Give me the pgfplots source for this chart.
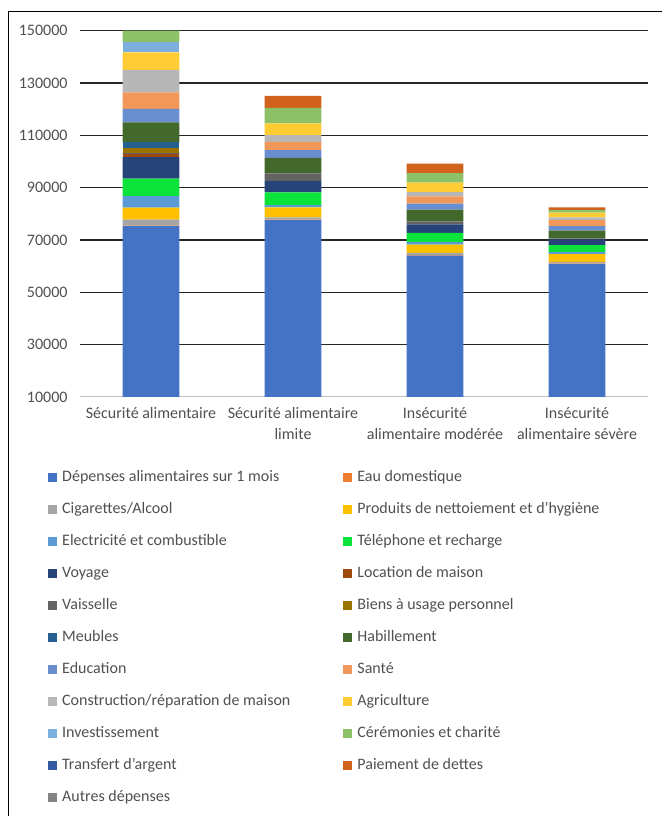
\documentclass[border=0pt]{standalone}
\usepackage{pgfplots}
\pgfplotsset{compat=1.18}
\usepackage{fontspec}
\setmainfont{Carlito}
\definecolor{cDep}{HTML}{4472C4}
\definecolor{cEau}{HTML}{ED7D31}
\definecolor{cCig}{HTML}{A5A5A5}
\definecolor{cPro}{HTML}{FFC000}
\definecolor{cEle}{HTML}{5B9BD5}
\definecolor{cTel}{HTML}{0BE33B}
\definecolor{cVoy}{HTML}{264478}
\definecolor{cLoc}{HTML}{9E480E}
\definecolor{cVai}{HTML}{636363}
\definecolor{cBie}{HTML}{997300}
\definecolor{cMeu}{HTML}{255E91}
\definecolor{cHab}{HTML}{43682B}
\definecolor{cEdu}{HTML}{698ED0}
\definecolor{cSan}{HTML}{F1975A}
\definecolor{cCon}{HTML}{B7B7B7}
\definecolor{cAgr}{HTML}{FFCD33}
\definecolor{cInv}{HTML}{7CAFDD}
\definecolor{cCer}{HTML}{8CC168}
\definecolor{cTra}{HTML}{335AA1}
\definecolor{cPai}{HTML}{D0621B}
\definecolor{cAut}{HTML}{848484}
\definecolor{txt}{HTML}{505050}
\begin{document}
\begin{tikzpicture}[x=1pt,y=1pt]
\useasboundingbox (0,0) rectangle (662,816);
\draw[black, line width=1pt] (8,0) -- (8,804) -- (662,804);
\begin{axis}[
  at={(80pt,419pt)}, anchor=south west,
  scale only axis, width=568pt, height=366.3pt,
  ybar stacked, bar width=0.4,
  xmin=-0.5, xmax=3.5,
  ymin=10000, ymax=150000,
  xtick={0,1,2,3},
  xticklabels={{Sécurité alimentaire},{Sécurité alimentaire\\limite},{Insécurité\\alimentaire modérée},{Insécurité\\alimentaire sévère}},
  ytick={30000,50000,...,150000},
  extra y ticks={10000},
  extra y tick style={grid=none},
  scaled y ticks=false,
  ymajorgrids,
  grid style={black!85, line width=1.25pt},
  major tick length=0pt,
  axis x line*=bottom, axis y line*=left,
  x axis line style={black!25, line width=1pt},
  y axis line style={draw=none},
  tick label style={font=\fontsize{16}{21}\selectfont, text=txt},
  xticklabel style={align=center, yshift=-7pt},
  yticklabel style={xshift=-9pt},
  /pgf/number format/.cd, fixed, 1000 sep={}, assume math mode=true, /pgfplots/.cd,
  every axis plot/.append style={draw=none},
  legend image code/.code={\fill[#1] (0pt,-4.5pt) rectangle (9pt,4.5pt);},
  legend columns=2,
  legend cell align=left,
  legend style={at={(axis description cs:-0.056,-0.199)}, anchor=north west,
    draw=none, fill=none, inner sep=0pt, outer sep=0pt,
    font=\fontsize{16}{19}\selectfont, text=txt,
    column sep=5pt, row sep=16pt,
    nodes={inner sep=0pt, text height=12pt, text depth=4pt},
    /tikz/every even column/.append style={column sep=53pt}},
]
\addplot[fill=cDep] coordinates {(0,75300) (1,77600) (2,64000) (3,60800)};
\addlegendentry{Dépenses alimentaires sur 1 mois}
\addplot[fill=cEau] coordinates {(0,200) (1,200) (2,200) (3,200)};
\addlegendentry{Eau domestique}
\addplot[fill=cCig] coordinates {(0,2300) (1,830) (2,900) (3,680)};
\addlegendentry{Cigarettes/Alcool}
\addplot[fill=cPro] coordinates {(0,4600) (1,3820) (2,3140) (3,2940)};
\addlegendentry{Produits de nettoiement et d'hygiène}
\addplot[fill=cEle] coordinates {(0,4400) (1,880) (2,1000) (3,880)};
\addlegendentry{Electricité et combustible}
\addplot[fill=cTel] coordinates {(0,6650) (1,4860) (2,3520) (3,2560)};
\addlegendentry{Téléphone et recharge}
\addplot[fill=cVoy] coordinates {(0,8200) (1,4440) (2,3250) (3,2180)};
\addlegendentry{Voyage}
\addplot[fill=cLoc] coordinates {(0,1300) (1,0) (2,0) (3,0)};
\addlegendentry{Location de maison}
\addplot[fill=cVai] coordinates {(0,300) (1,2830) (2,1150) (3,400)};
\addlegendentry{Vaisselle}
\addplot[fill=cBie] coordinates {(0,2000) (1,0) (2,0) (3,0)};
\addlegendentry{Biens à usage personnel}
\addplot[fill=cMeu] coordinates {(0,2100) (1,0) (2,0) (3,0)};
\addlegendentry{Meubles}
\addplot[fill=cHab] coordinates {(0,7650) (1,5970) (2,4470) (3,2900)};
\addlegendentry{Habillement}
\addplot[fill=cEdu] coordinates {(0,5100) (1,2940) (2,2290) (3,1800)};
\addlegendentry{Education}
\addplot[fill=cSan] coordinates {(0,6350) (1,3170) (2,2790) (3,2290)};
\addlegendentry{Santé}
\addplot[fill=cCon] coordinates {(0,8550) (1,2560) (2,1640) (3,1030)};
\addlegendentry{Construction/réparation de maison}
\addplot[fill=cAgr] coordinates {(0,6700) (1,4470) (2,3590) (3,1760)};
\addlegendentry{Agriculture}
\addplot[fill=cInv] coordinates {(0,3800) (1,0) (2,0) (3,0)};
\addlegendentry{Investissement}
\addplot[fill=cCer] coordinates {(0,4500) (1,5970) (2,3670) (3,1030)};
\addlegendentry{Cérémonies et charité}
\addplot[fill=cTra] coordinates {(0,0) (1,0) (2,0) (3,0)};
\addlegendentry{Transfert d'argent}
\addplot[fill=cPai] coordinates {(0,0) (1,4590) (2,3590) (3,1030)};
\addlegendentry{Paiement de dettes}
\addplot[fill=cAut] coordinates {(0,0) (1,0) (2,0) (3,0)};
\addlegendentry{Autres dépenses}
\end{axis}
\end{tikzpicture}
\end{document}
